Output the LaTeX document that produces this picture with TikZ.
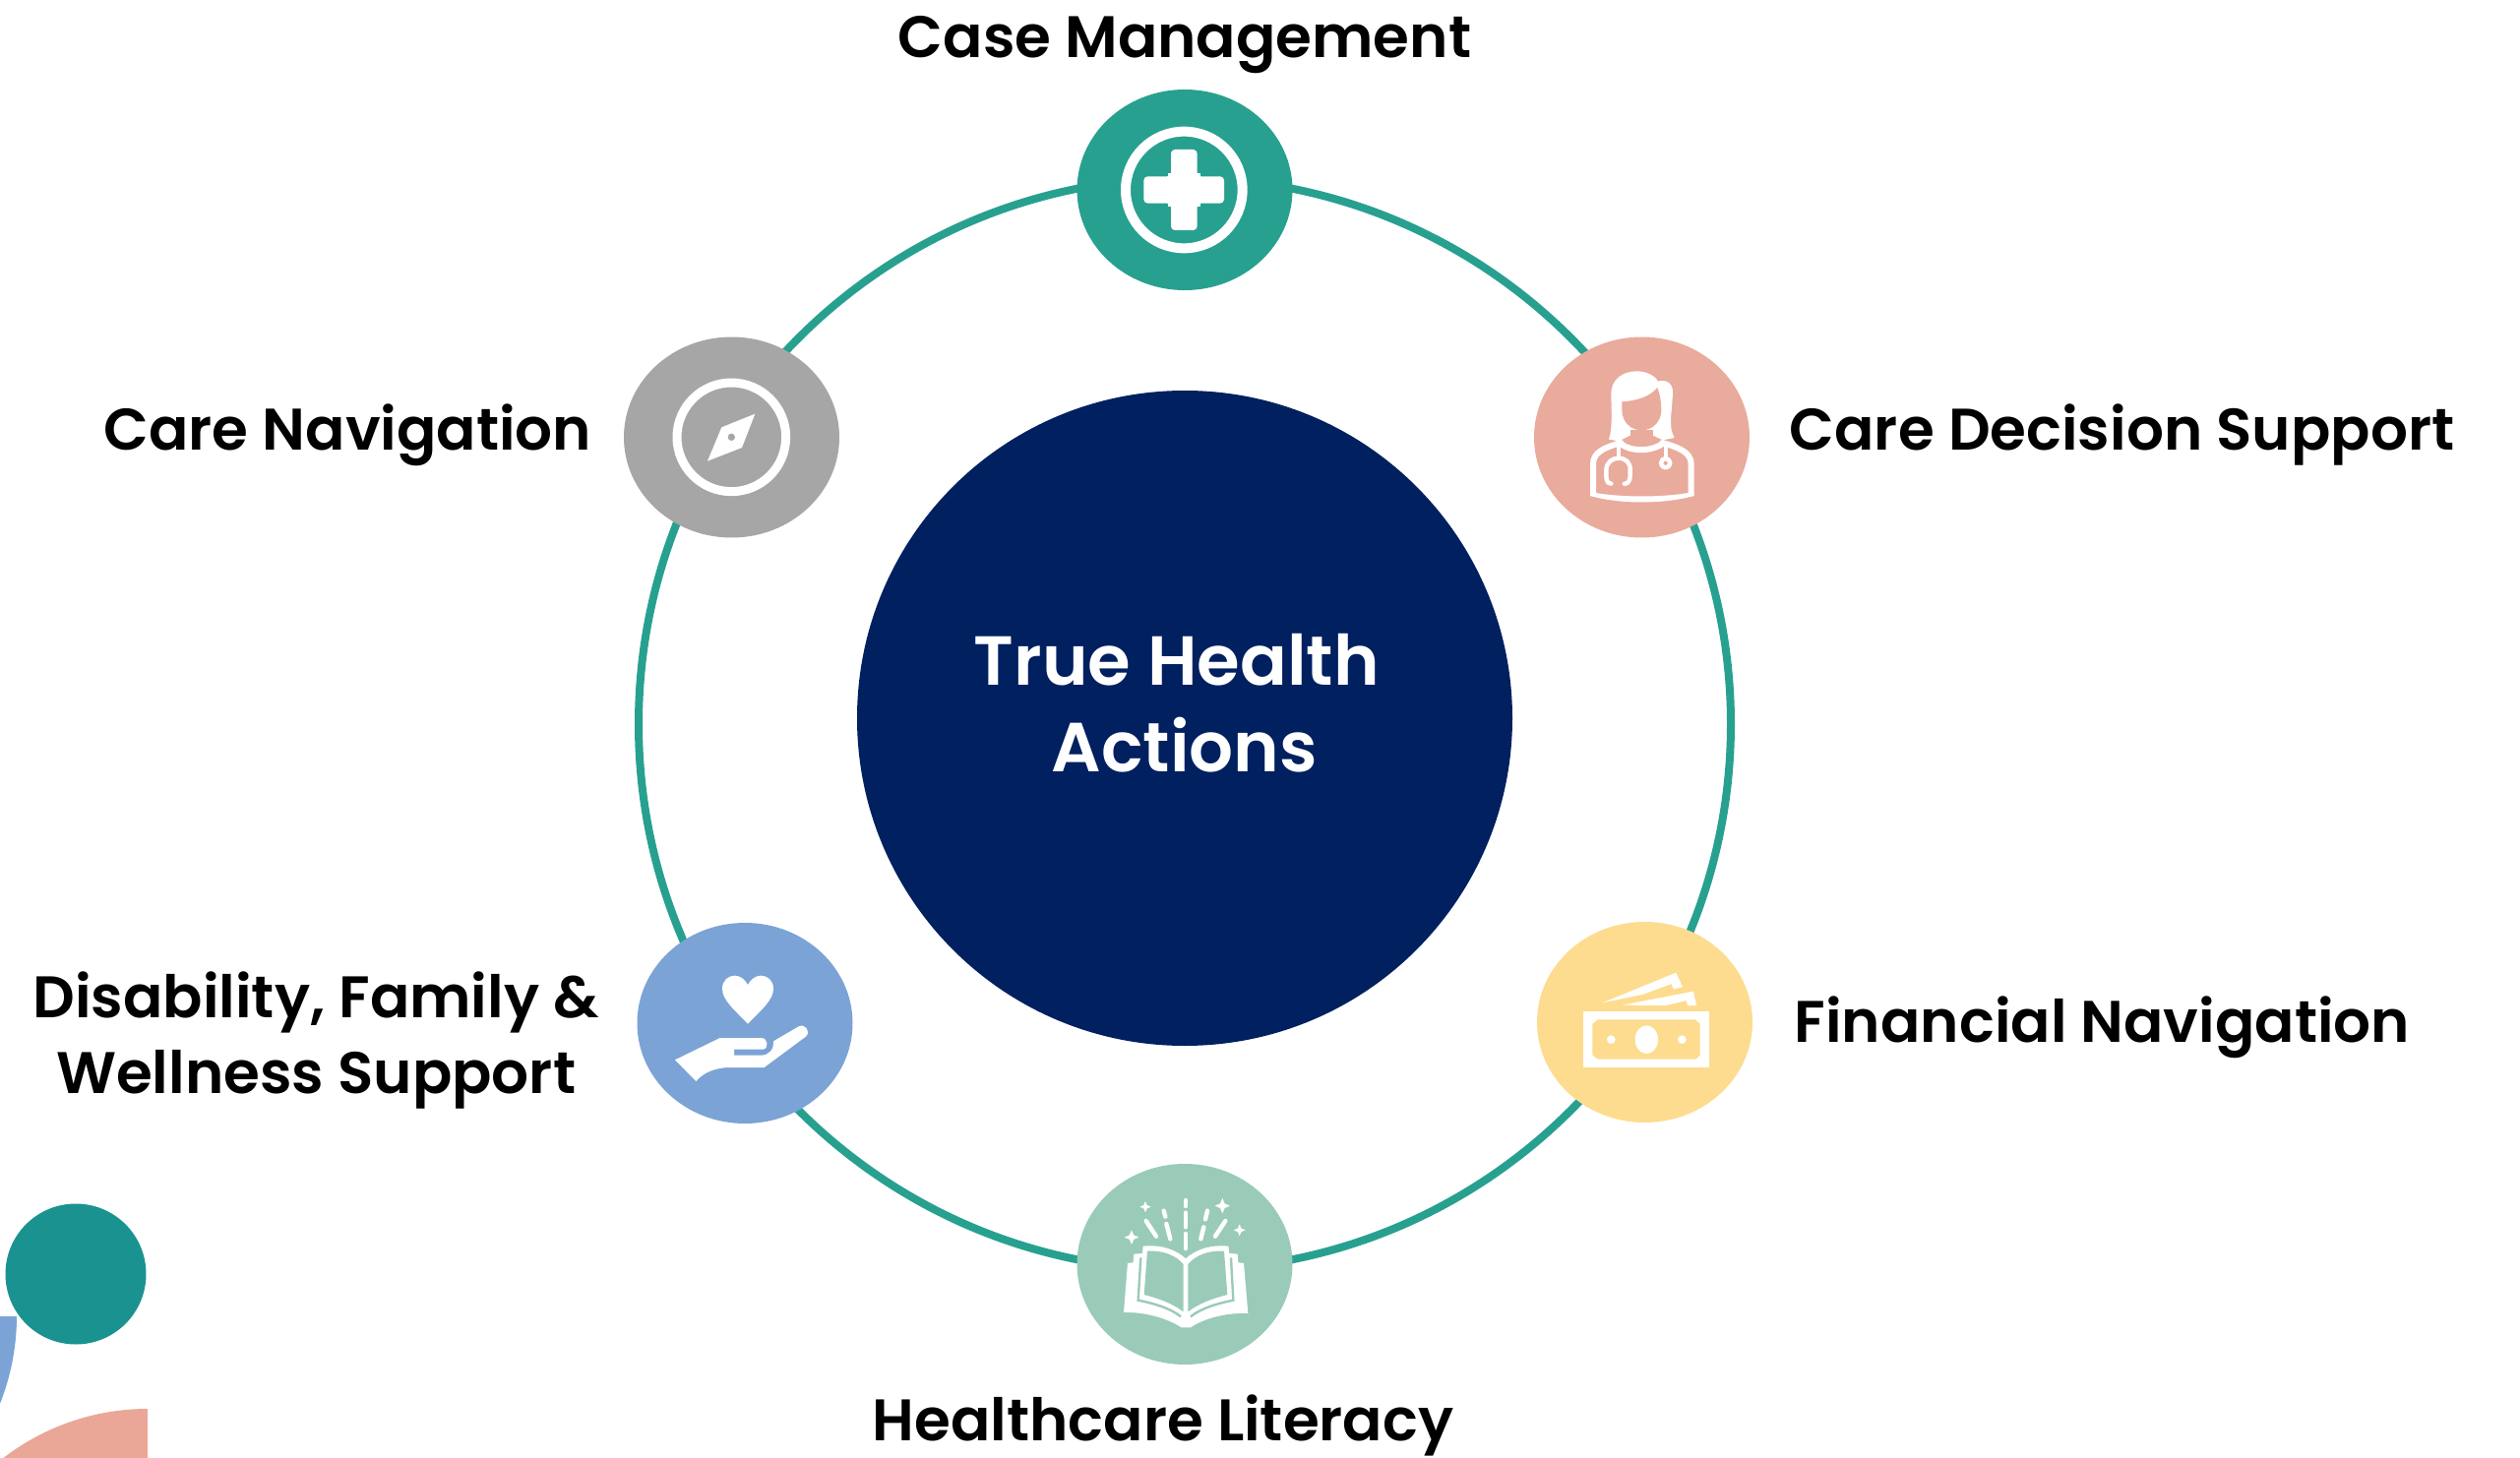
\documentclass[tikz,border=0pt]{standalone}
\usepackage{fontspec}
\setmainfont{Poppins}[UprightFont=* SemiBold]
\usetikzlibrary{positioning}
\usetikzlibrary{shapes.geometric}

\definecolor{tealring}{HTML}{28A090}
\definecolor{tealdark}{HTML}{1A9390}
\definecolor{navyfill}{HTML}{00205F}
\definecolor{salmonfill}{HTML}{E9AB9C}
\definecolor{greyfill}{HTML}{A6A6A6}
\definecolor{bluefill}{HTML}{7BA3D5}
\definecolor{yellowfill}{HTML}{FDDC8F}
\definecolor{greenfill}{HTML}{9ACBB8}

\tikzset{
  actionnode/.style={ellipse,inner sep=0pt,minimum width=109.5pt,minimum height=102pt},
  actionlabel/.style={align=center,inner sep=0pt,font=\fontsize{29.8}{38.5}\selectfont,text=black},
  iconline/.style={white,line cap=round,line join=round}
}

\begin{document}
\begin{tikzpicture}[x=0.5pt,y=-0.5pt,node distance=18pt]
  \useasboundingbox (0,0) rectangle (2561,1482);
  % corner shapes
  \begin{scope}
    \clip (0,0) rectangle (2561,1482);
    \fill[bluefill] (-223,1338) -- (17,1338) arc[start angle=0,end angle=40,radius=240] -- cycle;
    \fill[salmonfill!97!red] (150,1672) -- (150,1432) arc[start angle=-90,end angle=-150,radius=240] -- cycle;
  \end{scope}
  \node (dot) [circle,fill=tealdark,minimum size=71.5pt,inner sep=0pt] at (77,1295) {};

  \node (ring) [ellipse,draw=tealring,line width=4pt,minimum width=555pt,minimum height=555pt,inner sep=0pt] at (1204,736) {};
  \node (center) [circle,fill=navyfill,minimum size=333pt,inner sep=0pt] at (1204,730) {};
  \node (title) [text=white,align=center,inner sep=0pt,font=\fontsize{35.3}{44}\selectfont,yshift=7.5pt] at (center)
    {True Health\rule{8pt}{0pt}\\Actions};

  \node (case) [actionnode,fill=tealring] at (1204,193) {};
  \node (doctor) [actionnode,fill=salmonfill] at (1668.5,444.5) {};
  \node (money) [actionnode,fill=yellowfill] at (1671.5,1039) {};
  \node (book) [actionnode,fill=greenfill] at (1204,1285) {};
  \node (hand) [actionnode,fill=bluefill] at (757,1040) {};
  \node (compass) [actionnode,fill=greyfill] at (743.5,444.5) {};

  \node (caselabel) [actionlabel,above=7.5pt of case] {Case Management};
  \node (doctorlabel) [actionlabel,right=20pt of doctor,yshift=1pt] {Care Decision Support};
  \node (moneylabel) [actionlabel,right=21pt of money,yshift=-2.5pt] {Financial Navigation};
  \node (booklabel) [actionlabel,below=15pt of book,xshift=-11pt] {Healthcare Literacy};
  \node (handlabel) [actionlabel,left=19pt of hand,yshift=-8.5pt] {Disability, Family \&\\Wellness Support};
  \node (compasslabel) [actionlabel,left=16pt of compass,yshift=1pt] {Care Navigation};

  % cross
  \begin{scope}[shift={(1050,70)},scale=1/3]
    \draw[white,line width=5pt] (460,369) circle[radius=178];
    \fill[white,rounded corners=2pt] (420,246) -- (500,246) -- (500,328) -- (582,328) -- (582,410) -- (500,410)
      -- (500,492) -- (420,492) -- (420,410) -- (337,410) -- (337,328) -- (420,328) -- cycle;
    \fill[white] (410,318) rectangle (510,420);
  \end{scope}

  % doctor
  \begin{scope}[shift={(1530,320)},scale=1/3]
    \fill[white] (315,380) .. controls (328,340) and (322,280) .. (322,240)
      .. controls (322,195) and (360,172) .. (400,172) .. controls (430,172) and (455,185) .. (465,203)
      .. controls (490,195) and (510,210) .. (510,235) .. controls (508,300) and (495,340) .. (515,375)
      -- (480,382) -- (450,368) -- (380,368) -- (345,385) -- cycle;
    \fill[salmonfill] (355,265) .. controls (400,262) and (440,250) .. (463,222)
      .. controls (472,245) and (475,270) .. (475,295) .. controls (472,330) and (445,352) .. (415,352)
      .. controls (380,352) and (355,325) .. (355,290) -- cycle;
    \fill[salmonfill] (380,352) rectangle (450,370);
    \draw[iconline,line width=3pt] (352,390) .. controls (300,405) and (267,420) .. (267,455) -- (267,545);
    \draw[iconline,line width=3pt] (478,390) .. controls (530,405) and (566,420) .. (566,455) -- (566,545);
    \draw[iconline,line width=3pt] (350,392) .. controls (380,418) and (445,418) .. (480,392);
    \fill[white] (258,540) .. controls (350,558) and (480,558) .. (575,540) -- (575,552)
      .. controls (480,578) and (350,578) .. (258,552) -- cycle;
    \draw[iconline,line width=2pt] (345,400) -- (345,437);
    \draw[iconline,line width=2.2pt] (322,515) .. controls (305,515) and (307,495) .. (307,475)
      .. controls (307,450) and (325,437) .. (345,437) .. controls (365,437) and (382,450) .. (380,475)
      .. controls (380,495) and (382,515) .. (362,515);
    \draw[iconline,line width=2pt] (488,398) -- (488,435);
    \draw[iconline,line width=2.2pt] (488,452) circle[radius=14];
  \end{scope}

  % banknotes
  \begin{scope}[shift={(1550,920)},scale=1/3]
    \fill[white] (235,298) -- (460,206) -- (480,250) -- (452,256) -- (446,240) -- (360,272) -- cycle;
    \fill[white] (295,305) -- (513,263) -- (522,306) -- (495,306) -- (491,291) -- (430,306) -- cycle;
    \fill[white] (178,323) rectangle (562,495);
    \fill[yellowfill] (222,349) -- (518,349) -- (533,362) -- (533,457) -- (520,470) -- (222,470) -- (205,457) -- (205,362) -- cycle;
    \fill[white] (370,410) ellipse[x radius=35,y radius=43];
    \fill[white] (262,410) circle[radius=13];
    \fill[white] (478,410) circle[radius=13];
  \end{scope}

  % open book
  \begin{scope}[shift={(1080,1170)},scale=1/3]
    \fill[white] (186,492) -- (198,342) -- (215,340) -- (217,314) -- (243,312) -- (245,290)
      .. controls (300,285) and (345,300) .. (375,328) .. controls (405,300) and (450,285) .. (505,290)
      -- (508,312) -- (533,314) -- (535,340) -- (552,342) -- (565,495)
      .. controls (500,492) and (430,510) .. (390,538) -- (362,538) .. controls (320,510) and (250,490) .. (186,492) -- cycle;
    \fill[greenfill] (258,305) .. controls (305,302) and (345,318) .. (368,345) -- (368,490)
      .. controls (335,465) and (295,450) .. (248,438) -- cycle;
    \fill[greenfill] (492,305) .. controls (445,302) and (405,318) .. (382,345) -- (382,490)
      .. controls (415,465) and (455,450) .. (502,438) -- cycle;
    \draw[greenfill,line width=1.2pt] (238,325) -- (230,455) .. controls (280,465) and (330,480) .. (360,505);
    \draw[greenfill,line width=1.2pt] (513,325) -- (520,455) .. controls (470,465) and (420,480) .. (390,505);
    \foreach \ax/\ay/\bx/\by in {375/150/375/168,375/188/375/232,375/252/375/297,308/182/313/200,316/222/328/268,
      254/213/285/260,441/182/435/208,430/232/421/268,496/213/465/260}
      \draw[iconline,line width=2.2pt] (\ax,\ay) -- (\bx,\by);
    \foreach \sx/\sy/\sr in {252/170/17,210/263/22,487/167/23,539/241/18}
      \fill[white] (\sx-\sr,\sy) -- (\sx-.3*\sr,\sy-.3*\sr) -- (\sx,\sy-\sr) -- (\sx+.3*\sr,\sy-.3*\sr)
        -- (\sx+\sr,\sy) -- (\sx+.3*\sr,\sy+.3*\sr) -- (\sx,\sy+\sr) -- (\sx-.3*\sr,\sy+.3*\sr) -- cycle;
  \end{scope}

  % heart and hand
  \begin{scope}[shift={(630,920)},scale=1/3]
    \fill[white] (390,362) .. controls (350,320) and (312,290) .. (312,255)
      .. controls (312,230) and (330,215) .. (350,215) .. controls (368,215) and (382,228) .. (390,243)
      .. controls (398,228) and (412,215) .. (430,215) .. controls (450,215) and (468,230) .. (468,255)
      .. controls (468,290) and (430,320) .. (390,362) -- cycle;
    \fill[white] (168,472) -- (305,405) -- (432,405) .. controls (452,405) and (455,440) .. (435,440)
      -- (348,440) -- (348,458) -- (430,458) .. controls (455,458) and (470,440) .. (468,415)
      -- (545,370) .. controls (565,360) and (582,385) .. (568,400) -- (440,495) -- (330,495)
      .. controls (290,497) and (255,510) .. (232,537) -- cycle;
  \end{scope}

  % compass
  \begin{scope}[shift={(620,320)},scale=1/3]
    \draw[white,line width=4.5pt] (370,373) circle[radius=166];
    \fill[white] (442,302) -- (340,343) -- (297,446) -- (402,405) -- cycle;
    \fill[greyfill] (370,373) circle[radius=11];
  \end{scope}
\end{tikzpicture}
\end{document}
